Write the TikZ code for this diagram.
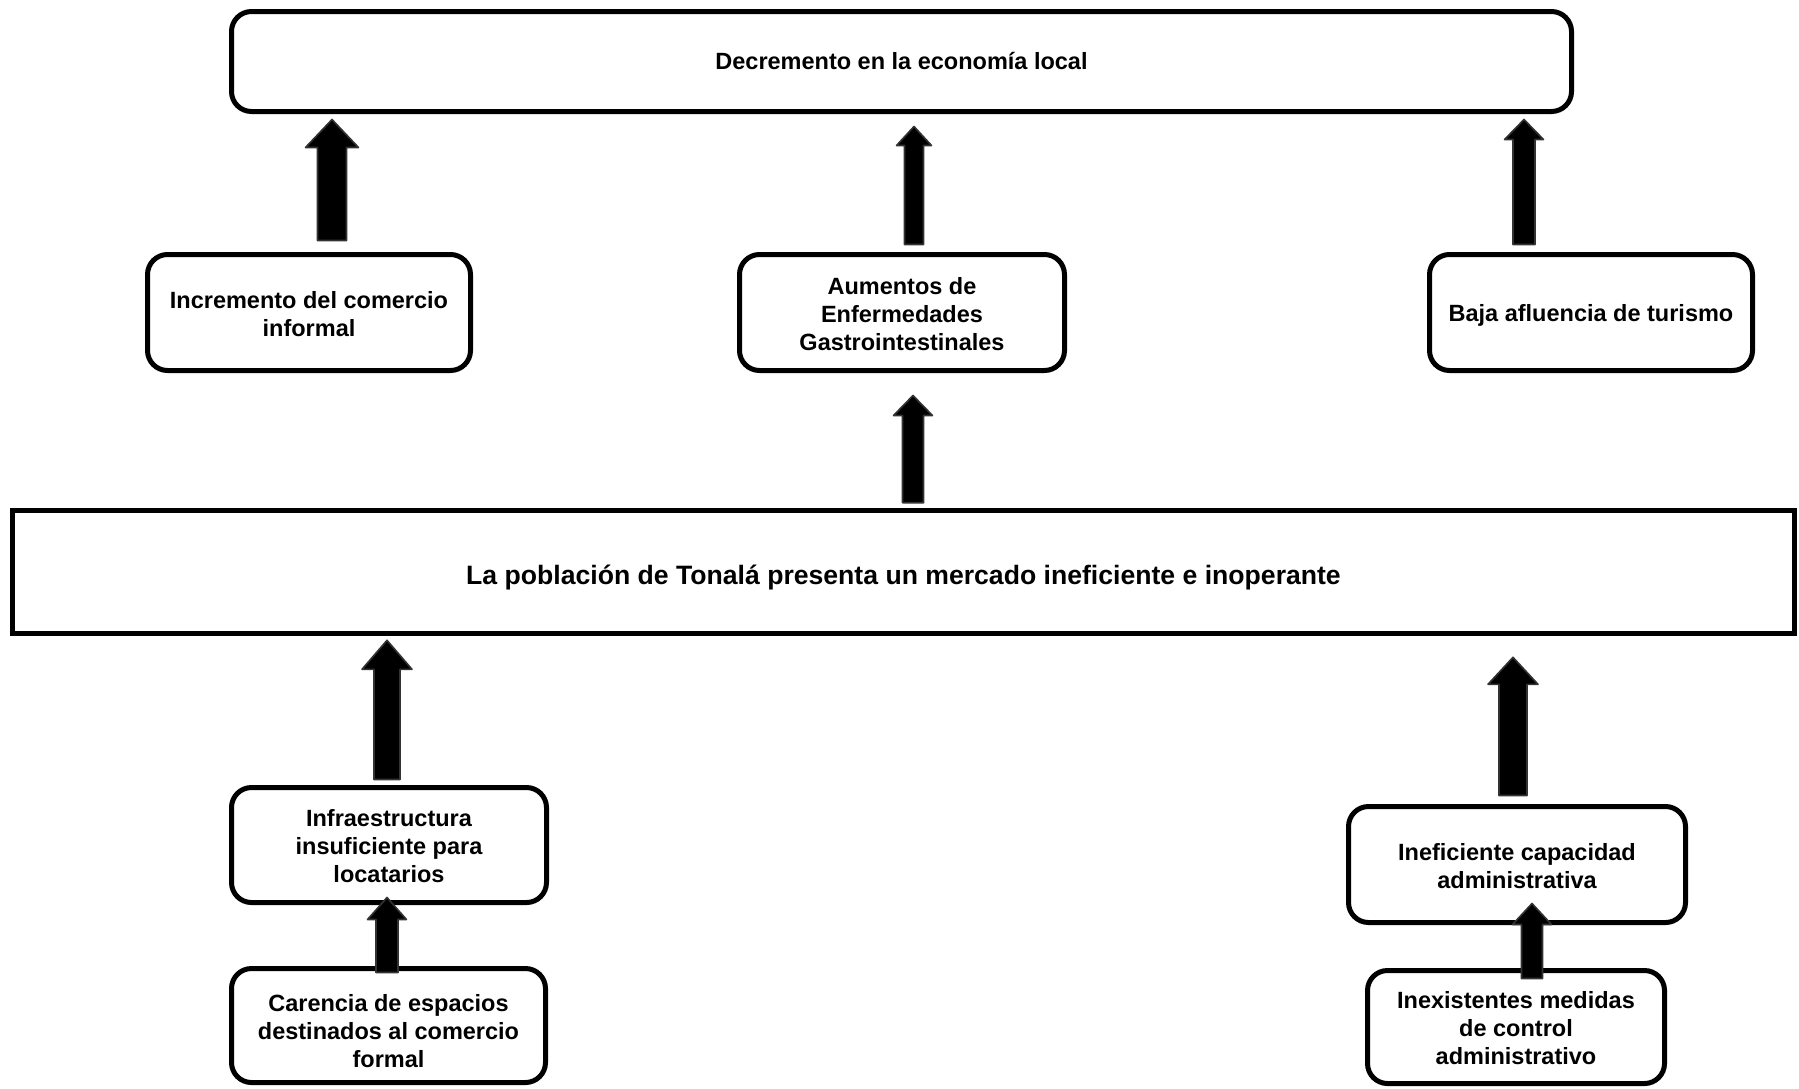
\documentclass[tikz,border=0pt]{standalone}
\usepackage{fontspec}
\setmainfont{Liberation Sans}
\usetikzlibrary{calc}
\tikzset{
  box/.style={draw=black, line width=2.5pt, rounded corners=10pt, inner sep=0pt, fill=white},
  mainbox/.style={draw=black, line width=2.3pt, inner sep=0pt, fill=white},
  txt/.style={align=center, inner sep=0pt, font=\fontsize{11.75}{14}\selectfont\bfseries},
  maintxt/.style={align=center, inner sep=0pt, font=\fontsize{13.3}{16}\selectfont\bfseries},
  blockarrow/.style={fill=black, draw=black!80, line width=0.8pt, line join=round}
}
% #1 start (bottom centre), #2 tip point (only y used), #3 shaft width px, #4 head width px, #5 head length px
\newcommand\barrow[5]{%
  \filldraw[blockarrow] let \p1=#1, \p2=#2 in
    (\x1-#3*0.25pt,\y1) -- (\x1-#3*0.25pt,\y2-#5*0.5pt) -- (\x1-#4*0.25pt,\y2-#5*0.5pt)
    -- (\x1,\y2) -- (\x1+#4*0.25pt,\y2-#5*0.5pt) -- (\x1+#3*0.25pt,\y2-#5*0.5pt)
    -- (\x1+#3*0.25pt,\y1) -- cycle;}
\begin{document}
\begin{tikzpicture}[x=0.5pt,y=-0.5pt]
\useasboundingbox (0,0) rectangle (1799,1088);

\node[box, minimum width=670pt, minimum height=50pt,
  label={[txt,yshift=0.3pt]center:{Decremento en la economía local}}] (top) at (901.5,61.5) {};

\node[box, minimum width=161.5pt, minimum height=58pt,
  label={[txt,yshift=-1pt]center:{Incremento del comercio\\informal}}] (inc) at (309,312.5) {};
\node[box, minimum width=162.5pt, minimum height=58pt,
  label={[txt,yshift=-1pt]center:{Aumentos de\\Enfermedades\\Gastrointestinales}}] (aum) at (902,312.5) {};
\node[box, minimum width=161.5pt, minimum height=58pt,
  label={[txt,yshift=-1.6pt]center:{Baja afluencia de turismo}}] (baja) at (1591,312.5) {};

\node[mainbox, minimum width=891pt, minimum height=61.5pt,
  label={[maintxt,yshift=-2.5pt]center:{La población de Tonalá presenta un mercado ineficiente e inoperante}}] (main) at (903.5,572) {};

\node[box, minimum width=157.5pt, minimum height=57.5pt,
  label={[txt,yshift=-0.6pt]center:{Infraestructura\\insuficiente para\\locatarios}}] (infra) at (389,845) {};
\node[box, minimum width=157pt, minimum height=57pt,
  label={[txt,yshift=-3pt]center:{Carencia de espacios\\destinados al comercio\\formal}}] (car) at (388.5,1025.5) {};
\node[box, minimum width=168.5pt, minimum height=58pt,
  label={[txt,yshift=-0.6pt]center:{Ineficiente capacidad\\administrativa}}] (inef) at (1517,864.5) {};
\node[box, minimum width=148.5pt, minimum height=56.5pt,
  label={[txt,yshift=-0.6pt]center:{Inexistentes medidas\\de control\\administrativo}}] (inex) at (1516,1027) {};

\barrow{($(inc.north)+(23,-11.5)$)}{($(top.south)+(0,5.5)$)}{29}{53}{28}
\barrow{($(aum.north)+(12,-7.5)$)}{($(top.south)+(0,12.5)$)}{19}{35}{19}
\barrow{($(baja.north)+(-67,-7.5)$)}{($(top.south)+(0,5.5)$)}{22}{39}{20}
\barrow{($(main.north)+(9.5,-5.5)$)}{($(aum.south)+(0,22.5)$)}{21}{39}{20}
\barrow{($(infra.north)+(-2,-5.5)$)}{($(main.south)+(0,4.5)$)}{26}{50}{29}
\barrow{($(car.north)+(-1.5,6.5)$)}{($(infra.south)+(0,-7.5)$)}{22}{39}{22}
\barrow{($(inef.north)+(-4,-8.5)$)}{($(main.south)+(0,21.5)$)}{28}{50}{27}
\barrow{($(inex.north)+(16,10.5)$)}{($(inef.south)+(0,-21.5)$)}{21}{39}{21}
\end{tikzpicture}
\end{document}
